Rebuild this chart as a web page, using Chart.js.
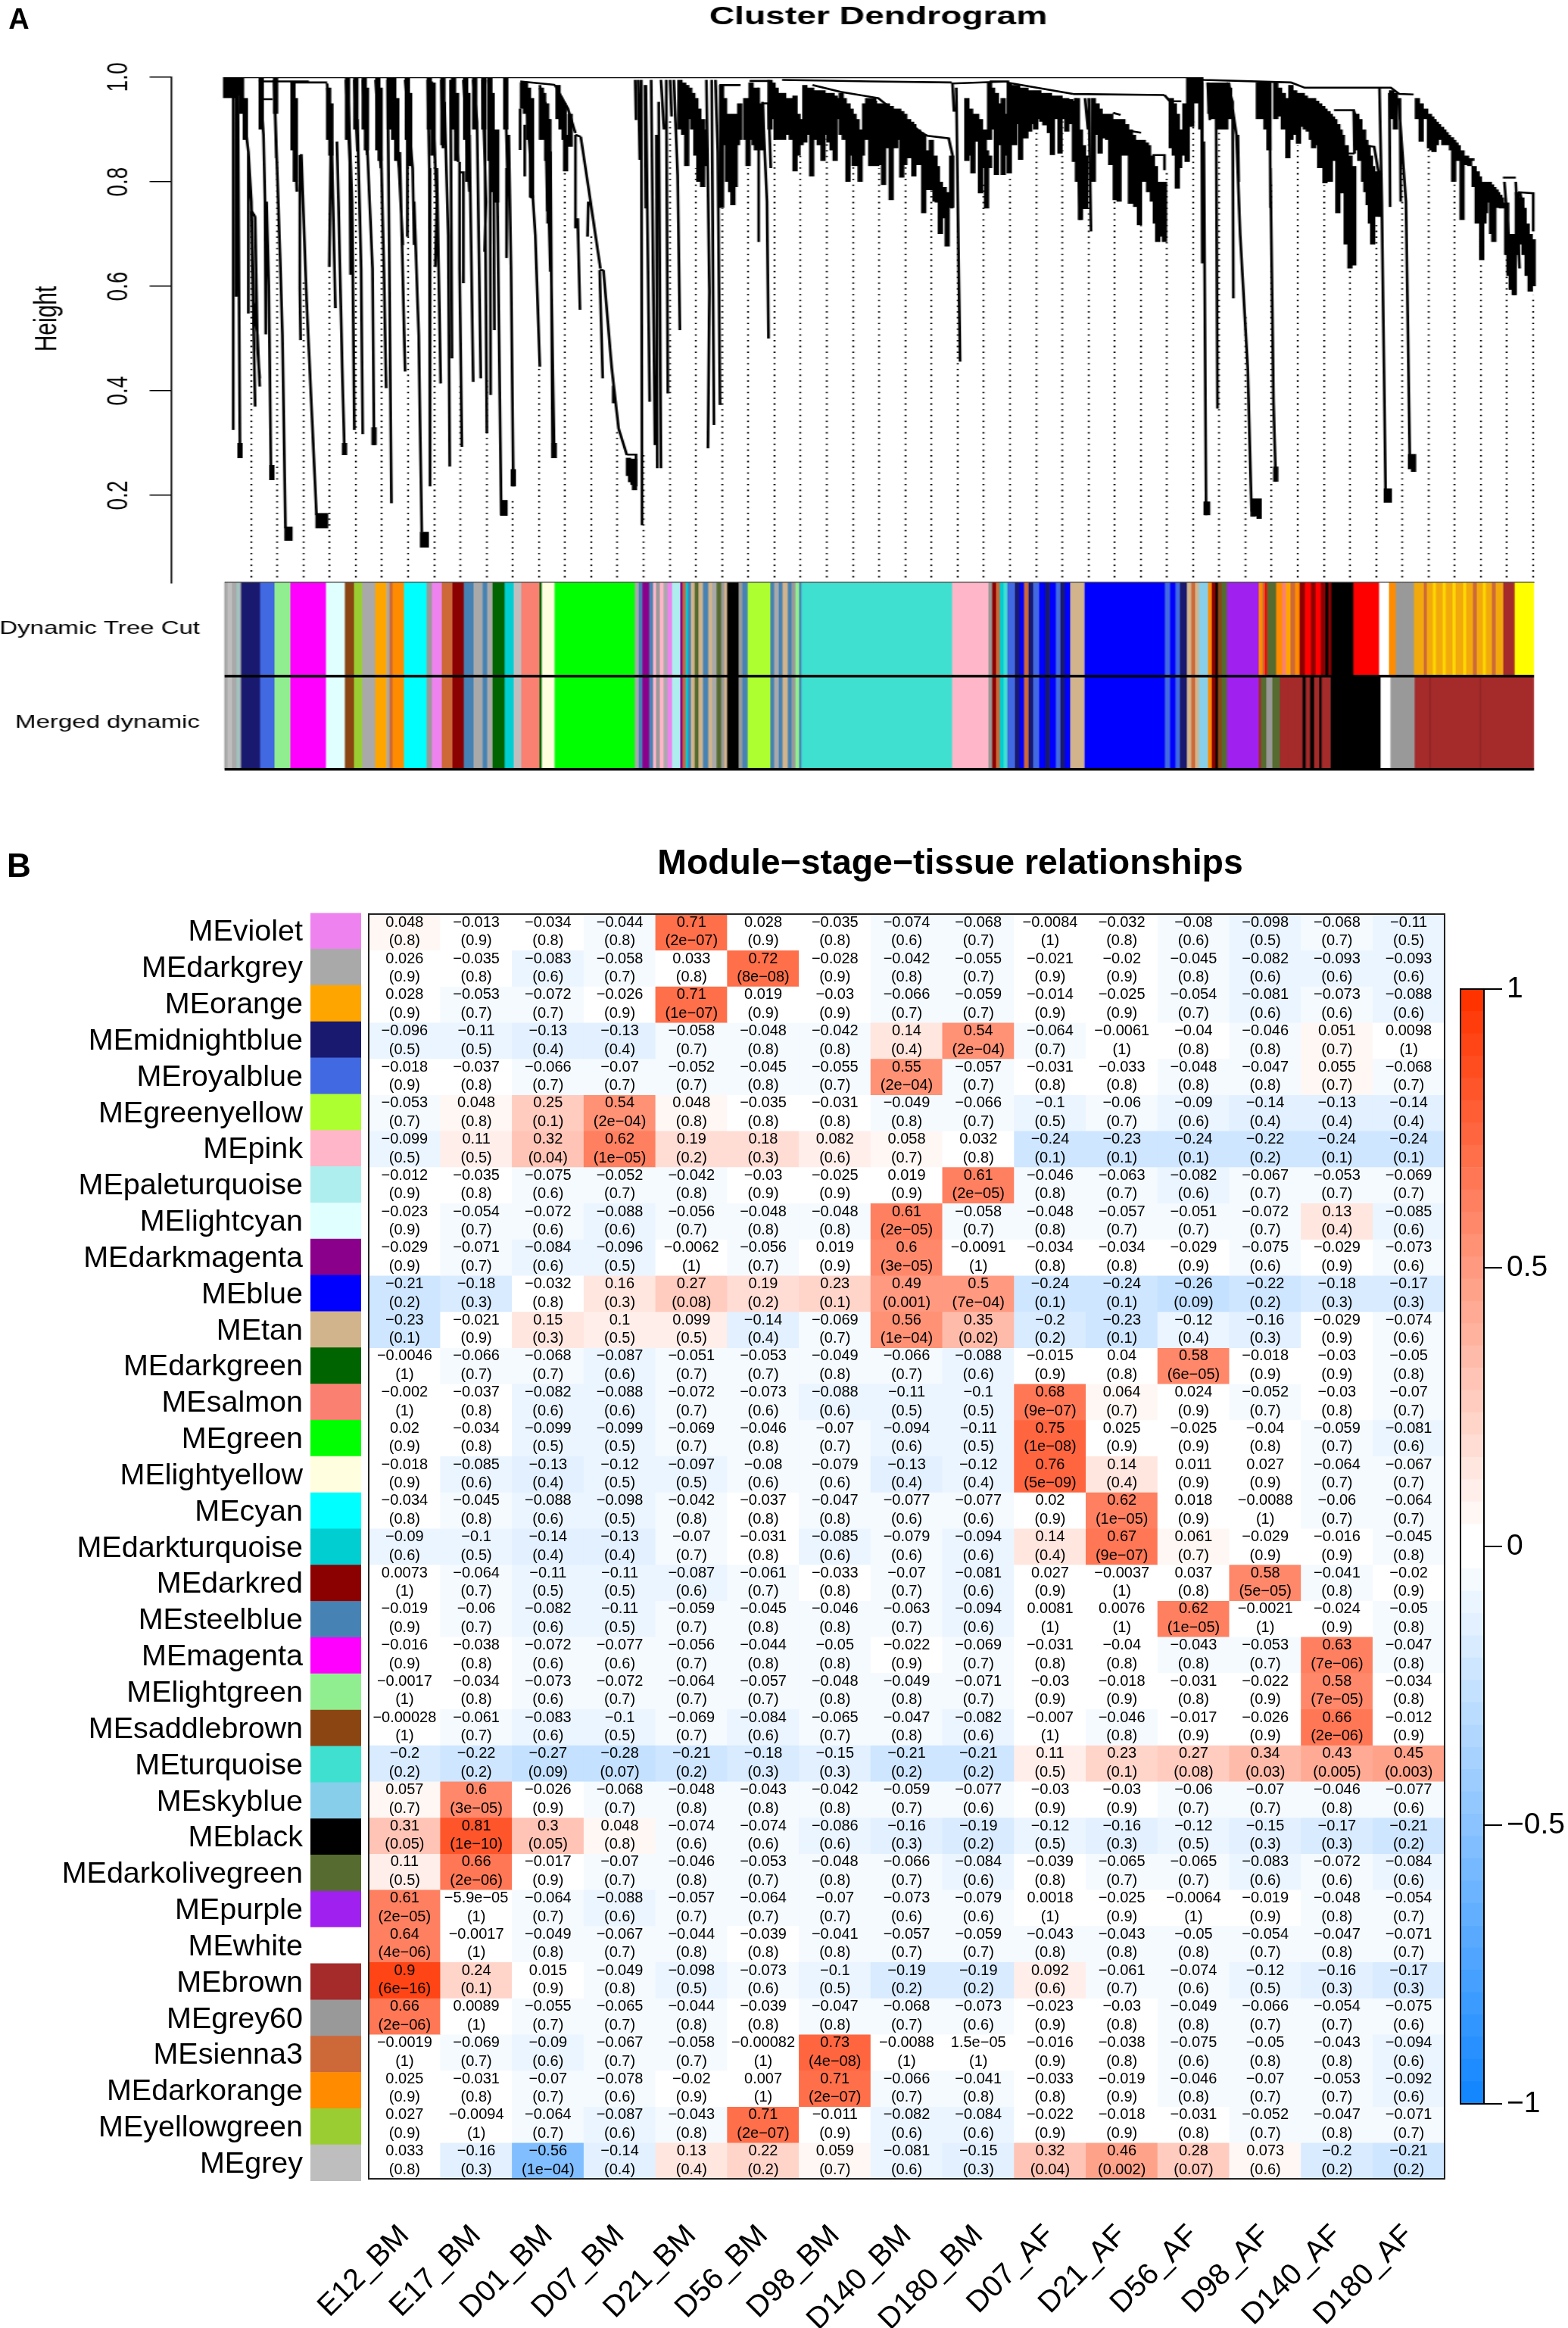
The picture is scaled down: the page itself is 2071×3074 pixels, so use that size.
<!DOCTYPE html>
<html>
<head>
<meta charset="utf-8">
<title>Cluster dendrogram and module-stage-tissue relationships</title>
<script src="https://cdn.jsdelivr.net/npm/chart.js@4"></script>
<style>
  html, body { margin: 0; background: #fff; }
  #page { position: relative; width: 2071px; height: 3074px; overflow: hidden; }
  canvas { position: absolute; left: 0; top: 0; }
  .wide { transform-origin: 0 0; transform: scaleX(1.39932); }
</style>
</head>
<body>
<div id="page">
  <canvas id="tree" class="wide" width="1480" height="790"></canvas>
  <canvas id="strips" class="wide" width="1480" height="1060"></canvas>
  <canvas id="swatches" width="2071" height="3074"></canvas>
  <canvas id="heatmap" width="2071" height="3074"></canvas>
  <canvas id="colorbar" width="2071" height="3074"></canvas>
</div>
<script>
// ---- panel B values ----
const stages = ['E12_BM', 'E17_BM', 'D01_BM', 'D07_BM', 'D21_BM', 'D56_BM', 'D98_BM', 'D140_BM', 'D180_BM', 'D07_AF', 'D21_AF', 'D56_AF', 'D98_AF', 'D140_AF', 'D180_AF']

const modules = ['MEviolet', 'MEdarkgrey', 'MEorange', 'MEmidnightblue', 'MEroyalblue', 'MEgreenyellow', 'MEpink', 'MEpaleturquoise', 'MElightcyan', 'MEdarkmagenta', 'MEblue', 'MEtan', 'MEdarkgreen', 'MEsalmon', 'MEgreen', 'MElightyellow', 'MEcyan', 'MEdarkturquoise', 'MEdarkred', 'MEsteelblue', 'MEmagenta', 'MElightgreen', 'MEsaddlebrown', 'MEturquoise', 'MEskyblue', 'MEblack', 'MEdarkolivegreen', 'MEpurple', 'MEwhite', 'MEbrown', 'MEgrey60', 'MEsienna3', 'MEdarkorange', 'MEyellowgreen', 'MEgrey']

const moduleColors = ['#EE82EE', '#A9A9A9', '#FFA500', '#191970', '#4169E1', '#ADFF2F', '#FFB6C8', '#AFEEEE', '#E0FFFF', '#8B008B', '#0000FF', '#D2B48C', '#006400', '#FA8072', '#00FF00', '#FFFFE0', '#00FFFF', '#00CED1', '#8B0000', '#4682B4', '#FF00FF', '#90EE90', '#8B4513', '#40E0D0', '#87CEEB', '#000000', '#556B2F', '#A020F0', '#FFFFFF', '#A52A2A', '#999999', '#CD6839', '#FF8C00', '#9ACD32', '#BEBEBE']

const corr = [
  [0.048, -0.013, -0.034, -0.044, 0.71, 0.028, -0.035, -0.074, -0.068, -0.0084, -0.032, -0.08, -0.098, -0.068, -0.11],
  [0.026, -0.035, -0.083, -0.058, 0.033, 0.72, -0.028, -0.042, -0.055, -0.021, -0.02, -0.045, -0.082, -0.093, -0.093],
  [0.028, -0.053, -0.072, -0.026, 0.71, 0.019, -0.03, -0.066, -0.059, -0.014, -0.025, -0.054, -0.081, -0.073, -0.088],
  [-0.096, -0.11, -0.13, -0.13, -0.058, -0.048, -0.042, 0.14, 0.54, -0.064, -0.0061, -0.04, -0.046, 0.051, 0.0098],
  [-0.018, -0.037, -0.066, -0.07, -0.052, -0.045, -0.055, 0.55, -0.057, -0.031, -0.033, -0.048, -0.047, 0.055, -0.068],
  [-0.053, 0.048, 0.25, 0.54, 0.048, -0.035, -0.031, -0.049, -0.066, -0.1, -0.06, -0.09, -0.14, -0.13, -0.14],
  [-0.099, 0.11, 0.32, 0.62, 0.19, 0.18, 0.082, 0.058, 0.032, -0.24, -0.23, -0.24, -0.22, -0.24, -0.24],
  [-0.012, -0.035, -0.075, -0.052, -0.042, -0.03, -0.025, 0.019, 0.61, -0.046, -0.063, -0.082, -0.067, -0.053, -0.069],
  [-0.023, -0.054, -0.072, -0.088, -0.056, -0.048, -0.048, 0.61, -0.058, -0.048, -0.057, -0.051, -0.072, 0.13, -0.085],
  [-0.029, -0.071, -0.084, -0.096, -0.0062, -0.056, 0.019, 0.6, -0.0091, -0.034, -0.034, -0.029, -0.075, -0.029, -0.073],
  [-0.21, -0.18, -0.032, 0.16, 0.27, 0.19, 0.23, 0.49, 0.5, -0.24, -0.24, -0.26, -0.22, -0.18, -0.17],
  [-0.23, -0.021, 0.15, 0.1, 0.099, -0.14, -0.069, 0.56, 0.35, -0.2, -0.23, -0.12, -0.16, -0.029, -0.074],
  [-0.0046, -0.066, -0.068, -0.087, -0.051, -0.053, -0.049, -0.066, -0.088, -0.015, 0.04, 0.58, -0.018, -0.03, -0.05],
  [-0.002, -0.037, -0.082, -0.088, -0.072, -0.073, -0.088, -0.11, -0.1, 0.68, 0.064, 0.024, -0.052, -0.03, -0.07],
  [0.02, -0.034, -0.099, -0.099, -0.069, -0.046, -0.07, -0.094, -0.11, 0.75, 0.025, -0.025, -0.04, -0.059, -0.081],
  [-0.018, -0.085, -0.13, -0.12, -0.097, -0.08, -0.079, -0.13, -0.12, 0.76, 0.14, 0.011, 0.027, -0.064, -0.067],
  [-0.034, -0.045, -0.088, -0.098, -0.042, -0.037, -0.047, -0.077, -0.077, 0.02, 0.62, 0.018, -0.0088, -0.06, -0.064],
  [-0.09, -0.1, -0.14, -0.13, -0.07, -0.031, -0.085, -0.079, -0.094, 0.14, 0.67, 0.061, -0.029, -0.016, -0.045],
  [0.0073, -0.064, -0.11, -0.11, -0.087, -0.061, -0.033, -0.07, -0.081, 0.027, -0.0037, 0.037, 0.58, -0.041, -0.02],
  [-0.019, -0.06, -0.082, -0.11, -0.059, -0.045, -0.046, -0.063, -0.094, 0.0081, 0.0076, 0.62, -0.0021, -0.024, -0.05],
  [-0.016, -0.038, -0.072, -0.077, -0.056, -0.044, -0.05, -0.022, -0.069, -0.031, -0.04, -0.043, -0.053, 0.63, -0.047],
  [-0.0017, -0.034, -0.073, -0.072, -0.064, -0.057, -0.048, -0.049, -0.071, -0.03, -0.018, -0.031, -0.022, 0.58, -0.034],
  [-0.00028, -0.061, -0.083, -0.1, -0.069, -0.084, -0.065, -0.047, -0.082, -0.007, -0.046, -0.017, -0.026, 0.66, -0.012],
  [-0.2, -0.22, -0.27, -0.28, -0.21, -0.18, -0.15, -0.21, -0.21, 0.11, 0.23, 0.27, 0.34, 0.43, 0.45],
  [0.057, 0.6, -0.026, -0.068, -0.048, -0.043, -0.042, -0.059, -0.077, -0.03, -0.03, -0.06, -0.07, -0.046, -0.077],
  [0.31, 0.81, 0.3, 0.048, -0.074, -0.074, -0.086, -0.16, -0.19, -0.12, -0.16, -0.12, -0.15, -0.17, -0.21],
  [0.11, 0.66, -0.017, -0.07, -0.046, -0.053, -0.048, -0.066, -0.084, -0.039, -0.065, -0.065, -0.083, -0.072, -0.084],
  [0.61, -5.9e-05, -0.064, -0.088, -0.057, -0.064, -0.07, -0.073, -0.079, 0.0018, -0.025, -0.0064, -0.019, -0.048, -0.054],
  [0.64, -0.0017, -0.049, -0.067, -0.044, -0.039, -0.041, -0.057, -0.059, -0.043, -0.043, -0.05, -0.054, -0.047, -0.071],
  [0.9, 0.24, 0.015, -0.049, -0.098, -0.073, -0.1, -0.19, -0.19, 0.092, -0.061, -0.074, -0.12, -0.16, -0.17],
  [0.66, 0.0089, -0.055, -0.065, -0.044, -0.039, -0.047, -0.068, -0.073, -0.023, -0.03, -0.049, -0.066, -0.054, -0.075],
  [-0.0019, -0.069, -0.09, -0.067, -0.058, -0.00082, 0.73, -0.0088, 1.5e-05, -0.016, -0.038, -0.075, -0.05, -0.043, -0.094],
  [0.025, -0.031, -0.07, -0.078, -0.02, 0.007, 0.71, -0.066, -0.041, -0.033, -0.019, -0.046, -0.07, -0.053, -0.092],
  [0.027, -0.0094, -0.064, -0.087, -0.043, 0.71, -0.011, -0.082, -0.084, -0.022, -0.018, -0.031, -0.052, -0.047, -0.071],
  [0.033, -0.16, -0.56, -0.14, 0.13, 0.22, 0.059, -0.081, -0.15, 0.32, 0.46, 0.28, 0.073, -0.2, -0.21]
]

const pvals = [
  ['0.8', '0.9', '0.8', '0.8', '2e-07', '0.9', '0.8', '0.6', '0.7', '1', '0.8', '0.6', '0.5', '0.7', '0.5'],
  ['0.9', '0.8', '0.6', '0.7', '0.8', '8e-08', '0.9', '0.8', '0.7', '0.9', '0.9', '0.8', '0.6', '0.6', '0.6'],
  ['0.9', '0.7', '0.7', '0.9', '1e-07', '0.9', '0.9', '0.7', '0.7', '0.9', '0.9', '0.7', '0.6', '0.6', '0.6'],
  ['0.5', '0.5', '0.4', '0.4', '0.7', '0.8', '0.8', '0.4', '2e-04', '0.7', '1', '0.8', '0.8', '0.7', '1'],
  ['0.9', '0.8', '0.7', '0.7', '0.7', '0.8', '0.7', '2e-04', '0.7', '0.8', '0.8', '0.8', '0.8', '0.7', '0.7'],
  ['0.7', '0.8', '0.1', '2e-04', '0.8', '0.8', '0.8', '0.8', '0.7', '0.5', '0.7', '0.6', '0.4', '0.4', '0.4'],
  ['0.5', '0.5', '0.04', '1e-05', '0.2', '0.3', '0.6', '0.7', '0.8', '0.1', '0.1', '0.1', '0.2', '0.1', '0.1'],
  ['0.9', '0.8', '0.6', '0.7', '0.8', '0.9', '0.9', '0.9', '2e-05', '0.8', '0.7', '0.6', '0.7', '0.7', '0.7'],
  ['0.9', '0.7', '0.6', '0.6', '0.7', '0.8', '0.8', '2e-05', '0.7', '0.8', '0.7', '0.7', '0.7', '0.4', '0.6'],
  ['0.9', '0.7', '0.6', '0.5', '1', '0.7', '0.9', '3e-05', '1', '0.8', '0.8', '0.9', '0.6', '0.9', '0.6'],
  ['0.2', '0.3', '0.8', '0.3', '0.08', '0.2', '0.1', '0.001', '7e-04', '0.1', '0.1', '0.09', '0.2', '0.3', '0.3'],
  ['0.1', '0.9', '0.3', '0.5', '0.5', '0.4', '0.7', '1e-04', '0.02', '0.2', '0.1', '0.4', '0.3', '0.9', '0.6'],
  ['1', '0.7', '0.7', '0.6', '0.7', '0.7', '0.8', '0.7', '0.6', '0.9', '0.8', '6e-05', '0.9', '0.9', '0.8'],
  ['1', '0.8', '0.6', '0.6', '0.7', '0.6', '0.6', '0.5', '0.5', '9e-07', '0.7', '0.9', '0.7', '0.8', '0.7'],
  ['0.9', '0.8', '0.5', '0.5', '0.7', '0.8', '0.7', '0.6', '0.5', '1e-08', '0.9', '0.9', '0.8', '0.7', '0.6'],
  ['0.9', '0.6', '0.4', '0.5', '0.5', '0.6', '0.6', '0.4', '0.4', '5e-09', '0.4', '0.9', '0.9', '0.7', '0.7'],
  ['0.8', '0.8', '0.6', '0.5', '0.8', '0.8', '0.8', '0.6', '0.6', '0.9', '1e-05', '0.9', '1', '0.7', '0.7'],
  ['0.6', '0.5', '0.4', '0.4', '0.7', '0.8', '0.6', '0.6', '0.6', '0.4', '9e-07', '0.7', '0.9', '0.9', '0.8'],
  ['1', '0.7', '0.5', '0.5', '0.6', '0.7', '0.8', '0.7', '0.6', '0.9', '1', '0.8', '5e-05', '0.8', '0.9'],
  ['0.9', '0.7', '0.6', '0.5', '0.7', '0.8', '0.8', '0.7', '0.6', '1', '1', '1e-05', '1', '0.9', '0.8'],
  ['0.9', '0.8', '0.6', '0.6', '0.7', '0.8', '0.8', '0.9', '0.7', '0.8', '0.8', '0.8', '0.7', '7e-06', '0.8'],
  ['1', '0.8', '0.6', '0.7', '0.7', '0.7', '0.8', '0.8', '0.7', '0.9', '0.9', '0.8', '0.9', '7e-05', '0.8'],
  ['1', '0.7', '0.6', '0.5', '0.7', '0.6', '0.7', '0.8', '0.6', '1', '0.8', '0.9', '0.9', '2e-06', '0.9'],
  ['0.2', '0.2', '0.09', '0.07', '0.2', '0.3', '0.3', '0.2', '0.2', '0.5', '0.1', '0.08', '0.03', '0.005', '0.003'],
  ['0.7', '3e-05', '0.9', '0.7', '0.8', '0.8', '0.8', '0.7', '0.6', '0.9', '0.9', '0.7', '0.7', '0.8', '0.6'],
  ['0.05', '1e-10', '0.05', '0.8', '0.6', '0.6', '0.6', '0.3', '0.2', '0.5', '0.3', '0.5', '0.3', '0.3', '0.2'],
  ['0.5', '2e-06', '0.9', '0.7', '0.8', '0.7', '0.8', '0.7', '0.6', '0.8', '0.7', '0.7', '0.6', '0.6', '0.6'],
  ['2e-05', '1', '0.7', '0.6', '0.7', '0.7', '0.7', '0.6', '0.6', '1', '0.9', '1', '0.9', '0.8', '0.7'],
  ['4e-06', '1', '0.8', '0.7', '0.8', '0.8', '0.8', '0.7', '0.7', '0.8', '0.8', '0.8', '0.7', '0.8', '0.7'],
  ['6e-16', '0.1', '0.9', '0.8', '0.5', '0.6', '0.5', '0.2', '0.2', '0.6', '0.7', '0.6', '0.5', '0.3', '0.3'],
  ['2e-06', '1', '0.7', '0.7', '0.8', '0.8', '0.8', '0.7', '0.6', '0.9', '0.8', '0.8', '0.7', '0.7', '0.6'],
  ['1', '0.7', '0.6', '0.7', '0.7', '1', '4e-08', '1', '1', '0.9', '0.8', '0.6', '0.8', '0.8', '0.6'],
  ['0.9', '0.8', '0.7', '0.6', '0.9', '1', '2e-07', '0.7', '0.8', '0.8', '0.9', '0.8', '0.7', '0.7', '0.6'],
  ['0.9', '1', '0.7', '0.6', '0.8', '2e-07', '0.9', '0.6', '0.6', '0.9', '0.9', '0.8', '0.7', '0.8', '0.7'],
  ['0.8', '0.3', '1e-04', '0.4', '0.4', '0.2', '0.7', '0.6', '0.3', '0.04', '0.002', '0.07', '0.6', '0.2', '0.2']
]

const colorbarEdges = [-1, -0.96, -0.92, -0.88, -0.84, -0.8, -0.76, -0.72, -0.68, -0.64, -0.6, -0.56, -0.52, -0.48, -0.44, -0.4, -0.36, -0.32, -0.28, -0.24, -0.2, -0.16, -0.12, -0.08, -0.04, 0, 0.04, 0.08, 0.12, 0.16, 0.2, 0.24, 0.28, 0.32, 0.36, 0.4, 0.44, 0.48, 0.52, 0.56, 0.6, 0.64, 0.68, 0.72, 0.76, 0.8, 0.84, 0.88, 0.92, 0.96, 1]

// ---- panel A values: x is position along the gene order, y is tree height ----
const heightTicks = [0.2, 0.4, 0.6, 0.8, 1]

// branches, each a polyline as x, h, x, h ...
const treeLines = [
  [296, 1, 1567, 1, 1590, 0.995, 1705, 0.99, 1723, 0.98, 1837, 0.98, 1848, 0.968, 1867, 0.967],
  [343, 0.992, 408, 0.992], [387, 0.99, 432, 0.99], [687, 0.992, 730, 0.986, 733, 0.985],
  [1033, 0.995, 1150, 0.992, 1257, 0.99], [1257, 0.988, 1333, 0.992], [1417, 0.968, 1538, 0.966],
  [950, 0.985, 978, 0.985], [990, 0.993, 1017, 0.993],
  [308, 1, 308, 0.325], [312, 1, 312, 0.58], [314, 1, 317, 0.271],
  [317, 1, 323, 0.92, 328, 0.857, 332, 0.762, 335, 0.57, 340, 0.507, 343, 0.408],
  [328, 0.857, 328, 0.548], [332, 0.743, 337, 0.37], [337, 0.733, 340, 0.481, 343, 0.424], [332, 0.745, 337, 0.733],
  [343, 0.995, 348, 0.89, 350, 0.762, 351, 0.602, 351, 0.508], [352, 0.762, 355, 0.602, 358, 0.229],
  [347, 0.958, 360, 0.958],
  [362, 0.995, 365, 0.845], [363, 0.953, 370, 0.653, 373, 0.507, 377, 0.137],
  [385, 0.992, 390, 0.858, 392, 0.781], [396, 0.851, 396, 0.596, 397, 0.497], [396, 0.851, 398, 0.851, 405, 0.571, 418, 0.162],
  [432, 0.988, 437, 0.889, 435, 0.637], [438, 0.877, 443, 0.558], [445, 0.877, 447, 0.762, 452, 0.443, 455, 0.277],
  [457, 0.995, 462, 0.838, 463, 0.622], [460, 0.953, 465, 0.762, 468, 0.325],
  [468, 0.995, 472, 0.858], [472, 0.92, 477, 0.634, 479, 0.317],
  [479, 0.995, 485, 0.851], [483, 0.934, 492, 0.634, 494, 0.296],
  [496, 0.995, 503, 0.826], [502, 0.934, 507, 0.634, 510, 0.405],
  [512, 0.995, 517, 0.185],
  [518, 0.995, 527, 0.826, 532, 0.679], [528, 0.857, 535, 0.437],
  [535, 0.995, 545, 0.826, 547, 0.679], [547, 0.762, 553, 0.507, 557, 0.13], [538, 0.953, 538, 0.695],
  [565, 0.995, 567, 0.826, 568, 0.217],
  [570, 0.992, 577, 0.762, 575, 0.637], [577, 0.826, 582, 0.414],
  [583, 0.995, 585, 0.864], [587, 0.953, 592, 0.698, 594, 0.255], [595, 0.995, 597, 0.462],
  [597, 0.992, 605, 0.838], [607, 0.838, 607, 0.634, 610, 0.293], [606, 0.818, 612, 0.818, 612, 0.606],
  [612, 0.995, 620, 0.781], [620, 0.89, 625, 0.417], [625, 0.995, 630, 0.915, 635, 0.424],
  [637, 0.995, 642, 0.762, 640, 0.666], [640, 0.953, 643, 0.319], [647, 0.953, 648, 0.392],
  [645, 0.995, 657, 0.762, 662, 0.162], [652, 0.826, 653, 0.516],
  [667, 0.995, 670, 0.826, 669, 0.654], [672, 0.89, 675, 0.628, 678, 0.217],
  [695, 0.966, 707, 0.698, 713, 0.446], [713, 0.985, 722, 0.89, 727, 0.628], [727, 0.858, 730, 0.271],
  [687, 0.94, 687, 0.861], [693, 0.909, 693, 0.81], [702, 0.89, 702, 0.768],
  [720, 0.953, 723, 0.743], [725, 0.92, 728, 0.628, 732, 0.271],
  [733, 0.985, 750, 0.94, 760, 0.893], [760, 0.89, 767, 0.886], [760, 0.89, 760, 0.711], [763, 0.73, 766, 0.555],
  [767, 0.886, 778, 0.781, 793, 0.634], [777, 0.762, 776, 0.695], [792, 0.631, 797, 0.631], [792, 0.631, 796, 0.424],
  [797, 0.631, 808, 0.443, 817, 0.328, 828, 0.277], [810, 0.41, 810, 0.376], [828, 0.278, 840, 0.278, 840, 0.217],
  [839, 0.995, 840, 0.918], [843, 0.995, 845, 0.842], [847, 0.995, 848, 0.143], [852, 0.985, 853, 0.749], [853, 0.985, 858, 0.379],
  [860, 0.995, 865, 0.296], [867, 0.89, 868, 0.252], [870, 0.953, 873, 0.252], [873, 0.995, 877, 0.9],
  [880, 0.995, 882, 0.395], [885, 0.995, 887, 0.925], [890, 0.995, 895, 0.813, 898, 0.516],
  [933, 0.995, 937, 0.59, 935, 0.29], [940, 0.995, 943, 0.335], [945, 0.995, 948, 0.857, 951, 0.373],
  [1007, 0.953, 1013, 0.762, 1015, 0.5], [1007, 0.95, 1015, 0.95, 1018, 0.826], [1002, 0.98, 1002, 0.685],
  [1073, 0.985, 1110, 0.972, 1160, 0.96, 1218, 0.893, 1225, 0.888, 1253, 0.883, 1258, 0.851, 1257, 0.749],
  [1263, 0.98, 1265, 0.762, 1268, 0.456], [1258, 0.988, 1260, 0.934],
  [1307, 0.992, 1333, 0.992], [1330, 0.99, 1417, 0.968],
  [1420, 0.96, 1427, 0.727], [1433, 0.96, 1437, 0.9], [1438, 0.96, 1441, 0.705],
  [1470, 0.932, 1480, 0.928], [1493, 0.897, 1507, 0.894], [1522, 0.851, 1538, 0.851, 1538, 0.822],
  [1538, 0.966, 1545, 0.954, 1560, 0.954], [1587, 0.99, 1588, 0.644], [1590, 0.877, 1593, 0.162],
  [1595, 0.99, 1598, 0.918], [1606, 0.99, 1608, 0.366],
  [1620, 0.99, 1628, 0.953, 1629, 0.577], [1623, 0.99, 1633, 0.89, 1638, 0.698, 1648, 0.443, 1653, 0.169], [1635, 0.89, 1636, 0.8],
  [1677, 0.99, 1678, 0.75], [1678, 0.826, 1682, 0.379, 1685, 0.226],
  [1762, 0.937, 1788, 0.937, 1789, 0.854], [1775, 0.854, 1789, 0.854], [1780, 0.81, 1787, 0.81, 1789, 0.775], [1788, 0.937, 1800, 0.87, 1815, 0.867, 1822, 0.807, 1822, 0.733],
  [1822, 0.979, 1825, 0.762, 1830, 0.213], [1835, 0.97, 1836, 0.752], [1849, 0.96, 1850, 0.762], [1847, 0.96, 1857, 0.762, 1862, 0.277],
  [1985, 0.808, 2002, 0.808], [1987, 0.8, 1992, 0.705, 2000, 0.583], [2002, 0.8, 2007, 0.634],
  [2005, 0.78, 2025, 0.778, 2025, 0.705], [2008, 0.778, 2017, 0.698, 2023, 0.59]
]

// dense groups of leaves, each column as x, top height, bottom height
const fanColumns = [
  [298, 1, 0.96], [303, 1, 0.96], [308, 1, 0.96], [313, 1, 0.965], [319, 1, 0.93], [324, 0.96, 0.88], [345, 1, 0.9], [364, 1, 0.93],
  [387, 0.99, 0.86], [390, 0.96, 0.8], [434, 0.98, 0.88], [437, 0.95, 0.85], [459, 1, 0.88], [470, 1, 0.9], [481, 1, 0.9], [484, 0.98, 0.86],
  [499, 1, 0.86], [502, 0.98, 0.84], [514, 1, 0.9], [520, 1, 0.88], [524, 0.96, 0.84], [538, 1, 0.88], [541, 0.97, 0.83], [567, 1, 0.9],
  [572, 0.99, 0.85], [585, 1, 0.87], [599, 1, 0.9], [603, 0.97, 0.84], [615, 1, 0.88], [618, 0.97, 0.8], [627, 1, 0.9], [639, 1, 0.9],
  [647, 1, 0.84], [650, 0.97, 0.78], [656, 0.9, 0.76], [668, 1, 0.9], [690, 0.99, 0.94], [694, 0.99, 0.93], [698, 0.98, 0.88], [702, 0.96, 0.77],
  [715, 0.98, 0.88], [718, 0.97, 0.88], [722, 0.95, 0.84], [725, 0.92, 0.72], [737, 0.985, 0.92], [741, 0.96, 0.9], [745, 0.95, 0.88], [747, 0.89, 0.82], [753, 0.93, 0.867],
  [379, 0.14, 0.113], [383, 0.14, 0.113], [420, 0.166, 0.137], [425, 0.166, 0.137], [430, 0.166, 0.137], [558, 0.13, 0.1], [563, 0.13, 0.1],
  [359, 0.258, 0.229], [317, 0.3, 0.271], [664, 0.191, 0.161], [667, 0.191, 0.161], [455, 0.3, 0.277], [494, 0.33, 0.296], [678, 0.25, 0.217], [732, 0.3, 0.271],
  [830, 0.272, 0.237], [833, 0.27, 0.225], [836, 0.27, 0.22], [838, 0.27, 0.21],
  [898, 0.995, 0.9], [903, 0.99, 0.89], [907, 0.985, 0.83], [911, 0.98, 0.92], [915, 0.97, 0.9], [919, 0.96, 0.85], [923, 0.94, 0.8], [928, 0.92, 0.79], [930, 0.9, 0.83],
  [953, 0.985, 0.75], [957, 0.96, 0.87], [961, 0.93, 0.8], [965, 0.93, 0.78], [968, 0.93, 0.755], [971, 0.93, 0.79], [974, 0.92, 0.87], [977, 0.95, 0.88],
  [985, 0.96, 0.88], [988, 0.96, 0.83], [992, 0.99, 0.88], [996, 0.98, 0.87], [999, 0.98, 0.86], [1006, 0.95, 0.86],
  [1017, 0.995, 0.9], [1021, 0.99, 0.92], [1025, 0.98, 0.88], [1030, 0.97, 0.88], [1035, 0.97, 0.88], [1040, 0.96, 0.89], [1045, 0.96, 0.88], [1050, 0.965, 0.82], [1054, 0.93, 0.85], [1058, 0.92, 0.87],
  [1063, 0.985, 0.875], [1067, 0.98, 0.89], [1072, 0.98, 0.81], [1077, 0.975, 0.88], [1082, 0.975, 0.87], [1087, 0.975, 0.84], [1091, 0.97, 0.89], [1095, 0.97, 0.875], [1099, 0.97, 0.86], [1103, 0.965, 0.84], [1107, 0.96, 0.92],
  [1111, 0.97, 0.89], [1115, 0.96, 0.88], [1120, 0.95, 0.8], [1124, 0.94, 0.85], [1128, 0.93, 0.83], [1132, 0.92, 0.83], [1136, 0.9, 0.8], [1139, 0.88, 0.85], [1142, 0.95, 0.88], [1146, 0.96, 0.88], [1150, 0.96, 0.83], [1154, 0.96, 0.87], [1158, 0.95, 0.83],
  [1155, 0.955, 0.83], [1160, 0.95, 0.832], [1164, 0.95, 0.9], [1167, 0.95, 0.794], [1172, 0.95, 0.864], [1177, 0.945, 0.765], [1183, 0.94, 0.864], [1187, 0.94, 0.88], [1191, 0.935, 0.808], [1195, 0.93, 0.832], [1200, 0.92, 0.845], [1204, 0.915, 0.86], [1207, 0.91, 0.81], [1213, 0.9, 0.832], [1217, 0.895, 0.84], [1220, 0.89, 0.74], [1225, 0.86, 0.784],
  [1230, 0.88, 0.784], [1235, 0.85, 0.762], [1238, 0.83, 0.76], [1242, 0.8, 0.7], [1247, 0.79, 0.73], [1251, 0.78, 0.676], [1257, 0.85, 0.75],
  [1277, 0.96, 0.84], [1282, 0.94, 0.85], [1285, 0.93, 0.816], [1290, 0.93, 0.877], [1295, 0.92, 0.778], [1300, 0.9, 0.826], [1303, 0.86, 0.749], [1307, 0.85, 0.826],
  [1307, 0.99, 0.88], [1311, 0.98, 0.9], [1316, 0.97, 0.813], [1320, 0.95, 0.87], [1325, 0.96, 0.813], [1329, 0.93, 0.85], [1333, 0.92, 0.816],
  [1333, 0.99, 0.9], [1337, 0.985, 0.91], [1340, 0.985, 0.87], [1344, 0.985, 0.91], [1348, 0.98, 0.842], [1352, 0.98, 0.92], [1355, 0.98, 0.883], [1360, 0.975, 0.896], [1364, 0.975, 0.91], [1368, 0.975, 0.9], [1372, 0.975, 0.92], [1376, 0.97, 0.915], [1380, 0.97, 0.908], [1383, 0.97, 0.92], [1386, 0.97, 0.893], [1390, 0.965, 0.851], [1395, 0.965, 0.92], [1400, 0.965, 0.854], [1404, 0.96, 0.92], [1409, 0.96, 0.896], [1414, 0.958, 0.91], [1419, 0.955, 0.838],
  [1423, 0.96, 0.8], [1427, 0.9, 0.727], [1431, 0.87, 0.76], [1434, 0.85, 0.748], [1444, 0.96, 0.8],
  [1449, 0.95, 0.89], [1453, 0.94, 0.854], [1458, 0.93, 0.883], [1463, 0.93, 0.88], [1467, 0.93, 0.832], [1473, 0.92, 0.765], [1478, 0.92, 0.762],
  [1483, 0.92, 0.85], [1488, 0.91, 0.85], [1493, 0.9, 0.758], [1497, 0.89, 0.78], [1500, 0.88, 0.752], [1505, 0.88, 0.717],
  [1510, 0.88, 0.8], [1514, 0.875, 0.8], [1517, 0.87, 0.78], [1522, 0.85, 0.762], [1526, 0.83, 0.72], [1529, 0.8, 0.685], [1533, 0.8, 0.695], [1536, 0.8, 0.7], [1538, 0.8, 0.685],
  [1547, 0.96, 0.864], [1551, 0.95, 0.85], [1555, 0.93, 0.787], [1558, 0.9, 0.826], [1565, 0.95, 0.85], [1568, 0.95, 0.838],
  [1570, 1, 0.95], [1574, 1, 0.905], [1578, 1, 0.95], [1582, 1, 0.95], [1586, 1, 0.9],
  [1593, 0.188, 0.162], [1595, 0.188, 0.162], [1655, 0.194, 0.159], [1659, 0.194, 0.16], [1663, 0.194, 0.155], [1685, 0.255, 0.226], [1831, 0.213, 0.186], [1835, 0.213, 0.186], [1863, 0.279, 0.25], [1867, 0.279, 0.245],
  [1598, 0.99, 0.93], [1602, 0.99, 0.92], [1610, 0.99, 0.9], [1615, 0.99, 0.9], [1619, 0.99, 0.9], [1624, 0.98, 0.92],
  [1662, 0.99, 0.92], [1667, 0.99, 0.92], [1672, 0.99, 0.9], [1676, 0.99, 0.86],
  [1685, 0.99, 0.92], [1690, 0.98, 0.925], [1695, 0.97, 0.9], [1701, 0.96, 0.845], [1705, 0.985, 0.88], [1710, 0.975, 0.89], [1715, 0.97, 0.873], [1720, 0.97, 0.905], [1724, 0.965, 0.9], [1728, 0.96, 0.896], [1732, 0.96, 0.88], [1735, 0.96, 0.864], [1739, 0.955, 0.87], [1743, 0.95, 0.826], [1747, 0.945, 0.83], [1750, 0.94, 0.797], [1754, 0.935, 0.82], [1757, 0.93, 0.8], [1760, 0.925, 0.84], [1763, 0.92, 0.85], [1767, 0.91, 0.74], [1770, 0.9, 0.8], [1773, 0.89, 0.778], [1778, 0.87, 0.68], [1783, 0.85, 0.634], [1788, 0.83, 0.64],
  [1792, 0.93, 0.86], [1796, 0.92, 0.84], [1801, 0.9, 0.8], [1804, 0.88, 0.78], [1807, 0.87, 0.755], [1810, 0.85, 0.72], [1813, 0.83, 0.68], [1817, 0.82, 0.74], [1820, 0.8, 0.733],
  [1838, 0.975, 0.92], [1843, 0.97, 0.9], [1872, 0.96, 0.92], [1877, 0.95, 0.877], [1883, 0.94, 0.92], [1888, 0.93, 0.864], [1891, 0.925, 0.86], [1894, 0.92, 0.857], [1897, 0.915, 0.87], [1900, 0.91, 0.89], [1904, 0.905, 0.88], [1907, 0.9, 0.87], [1910, 0.895, 0.87], [1913, 0.89, 0.883], [1917, 0.885, 0.86], [1920, 0.88, 0.8], [1923, 0.875, 0.85], [1926, 0.87, 0.84], [1931, 0.86, 0.727], [1937, 0.85, 0.832], [1941, 0.845, 0.83], [1944, 0.84, 0.845], [1947, 0.83, 0.79], [1951, 0.82, 0.72], [1954, 0.81, 0.74], [1957, 0.8, 0.65], [1960, 0.8, 0.72], [1962, 0.8, 0.74], [1965, 0.8, 0.76], [1967, 0.8, 0.775], [1970, 0.795, 0.7], [1973, 0.79, 0.685], [1976, 0.785, 0.75], [1978, 0.78, 0.775], [1981, 0.775, 0.76], [1983, 0.77, 0.749],
  [1990, 0.76, 0.66], [1993, 0.7, 0.62], [1996, 0.7, 0.593], [2000, 0.7, 0.583], [2004, 0.78, 0.66], [2010, 0.77, 0.68], [2013, 0.75, 0.66], [2017, 0.72, 0.62], [2021, 0.7, 0.59], [2025, 0.69, 0.6]
]

// dotted guide lines, bottom of the plot up to the tree
const guideX = [332, 366, 401, 435, 470, 504, 539, 574, 608, 643, 677, 712, 746, 781, 815, 850, 885, 919, 954, 988, 1023, 1057, 1092, 1127, 1161, 1196, 1230, 1265, 1299, 1334, 1369, 1403, 1438, 1472, 1507, 1541, 1576, 1610, 1645, 1679, 1714, 1749, 1783, 1818, 1852, 1887, 1921, 1956, 1990, 2025]
const guideTop = [0.743, 0.845, 0.609, 0.743, 0.858, 0.826, 0.883, 0.858, 0.411, 0.424, 0.194, 0.443, 0.82, 0.698, 0.322, 0.28, 0.92, 0.826, 0.749, 0.826, 0.915, 0.851, 0.89, 0.858, 0.826, 0.864, 0.787, 0.787, 0.8, 0.813, 0.902, 0.921, 0.896, 0.82, 0.717, 0.82, 0.921, 0.896, 0.545, 0.8, 0.87, 0.794, 0.634, 0.717, 0.826, 0.883, 0.8, 0.647, 0.698, 0.583]

const stripRows = ['Dynamic Tree Cut', 'Merged dynamic']

// colour strips: where each band ends along the gene order, and its colour
const sharedEnds = [300, 306, 312, 316, 318, 343, 362, 383, 430, 455, 467, 478, 495, 510, 514, 518, 533, 563, 570, 583, 597, 612, 625, 637, 643, 650, 666, 678, 688, 712, 715, 732, 838, 843, 848, 857, 862, 866, 871, 876, 881, 887, 898, 901, 905, 908, 912, 917, 922, 928, 935, 940, 946, 952, 956, 960, 975, 980, 987, 1017, 1022, 1028, 1033, 1040, 1045, 1050, 1055, 1058, 1257, 1305, 1310, 1315, 1320, 1325, 1330, 1340, 1346, 1352, 1358, 1364, 1372, 1380, 1386, 1394, 1400, 1406, 1413, 1432, 1538, 1545, 1552, 1558, 1567, 1573, 1578, 1583, 1595, 1600, 1605, 1608, 1613, 1620, 1662]
const sharedColors = ['#A9A9A9', '#BEBEBE', '#A9A9A9', '#9FC4C0', '#A9A9A9', '#191970', '#4169E1', '#90EE90', '#FF00FF', '#E0FFFF', '#8B4513', '#9ACD32', '#A9A9A9', '#FFA500', '#A9A9A9', '#CD6839', '#FF8C00', '#00FFFF', '#999999', '#EE82EE', '#CD6839', '#8B0000', '#4682B4', '#A9A9A9', '#4682B4', '#A9A9A9', '#006400', '#00CED1', '#BEBEBE', '#FA8072', '#006400', '#FFFFE0', '#00FF00', '#A9A9A9', '#4682B4', '#8B008B', '#4682B4', '#FFB6C8', '#999999', '#FFB6C8', '#A9A9A9', '#EE82EE', '#AFEEEE', '#8B008B', '#CD6839', '#00CED1', '#4682B4', '#D2B48C', '#556B2F', '#D2B48C', '#4682B4', '#D2B48C', '#A9A9A9', '#556B2F', '#999999', '#D2B48C', '#000000', '#999999', '#4682B4', '#ADFF2F', '#4682B4', '#A9A9A9', '#4682B4', '#D2B48C', '#4682B4', '#999999', '#90EE90', '#4682B4', '#40E0D0', '#FFB6C8', '#999999', '#8B0000', '#CD6839', '#00CED1', '#40E0D0', '#4169E1', '#191970', '#0000FF', '#CD6839', '#191970', '#4169E1', '#0000FF', '#191970', '#0000FF', '#4169E1', '#191970', '#0000FF', '#D2B48C', '#0000FF', '#4169E1', '#0000FF', '#4169E1', '#191970', '#D2B48C', '#CD6839', '#D2B48C', '#87CEEB', '#FF8C00', '#8B0000', '#000000', '#8B4513', '#556B2F', '#A020F0']

const cutTailEnds = [1667, 1670, 1673, 1685, 1693, 1698, 1704, 1710, 1716, 1723, 1731, 1737, 1744, 1750, 1754, 1758, 1787, 1821, 1834, 1843, 1867, 1880, 1884, 1892, 1896, 1905, 1909, 1918, 1922, 1932, 1936, 1945, 1950, 1958, 1962, 1970, 1975, 1985, 2000, 2026]
const cutTailColors = ['#FF8C00', '#CD6839', '#FF0000', '#556B2F', '#FF8C00', '#FA8072', '#FFA500', '#CD6839', '#FF8C00', '#8B0000', '#FF0000', '#8B0000', '#FF0000', '#8B0000', '#000000', '#8B0000', '#000000', '#FF0000', '#FFFFFF', '#FF8C00', '#999999', '#F2A90C', '#CD6839', '#F2A90C', '#FFD700', '#F2A90C', '#FFD700', '#F2A90C', '#FFD700', '#F2A90C', '#FFD700', '#F2A90C', '#CD6839', '#F2A90C', '#FFD700', '#F2A90C', '#CD6839', '#F2A90C', '#A52A2A', '#FFFF00']

const mergedTailEnds = [1665, 1672, 1680, 1690, 1700, 1720, 1724, 1730, 1735, 1742, 1745, 1750, 1757, 1823, 1836, 1868, 1888, 1889, 1954, 1955, 2026]
const mergedTailColors = ['#A52A2A', '#556B2F', '#999999', '#556B2F', '#A52A2A', '#A52A2A', '#000000', '#A52A2A', '#000000', '#A52A2A', '#000000', '#A52A2A', '#A52A2A', '#000000', '#FFFFFF', '#999999', '#A52A2A', '#7A2020', '#A52A2A', '#7A2020', '#A52A2A']

// ---- helpers ----
const FONT = '"Liberation Sans", Arial, sans-serif'
const STRETCH = 2071 / 1480 // panel A is drawn wider than it is tall, as in the figure
const px = x => x / STRETCH

function minusSign (s) {
  return s.replace(/-/g, '\u2212')
}

function corrText (v) {
  const s = Math.abs(v) < 1e-4 ? v.toExponential().replace(/e-(\d)$/, 'e-0$1') : String(v)
  return minusSign(s)
}

function cellColor (v) {
  const k = Math.max(0, Math.min(24, Math.ceil(Math.abs(v) / 0.04 - 1e-9) - 1))
  const t = k / 24
  const end = v < 0 ? [20, 135, 255] : [255, 51, 0]
  const c = end.map(e => Math.round(255 + (e - 255) * t))
  return `rgb(${c[0]},${c[1]},${c[2]})`
}

function putText (ctx, text, x, y, font, rotation) {
  ctx.save()
  ctx.translate(x, y)
  if (rotation) ctx.rotate(rotation)
  ctx.font = font
  ctx.fillStyle = '#000'
  ctx.textAlign = 'center'
  ctx.textBaseline = 'middle'
  ctx.fillText(text, 0, 0)
  ctx.restore()
}

const baseOptions = {
  responsive: false,
  maintainAspectRatio: false,
  devicePixelRatio: 1,
  animation: false,
  events: []
}
const quietPlugins = { legend: { display: false }, tooltip: { enabled: false }, title: { display: false } }

function polylinePoints (lines) {
  const pts = []
  lines.forEach(line => {
    for (let i = 0; i < line.length; i += 2) pts.push({ x: line[i], y: line[i + 1] })
    pts.push({ x: line[line.length - 2], y: null })
  })
  return pts
}

// ---- panel A, dendrogram ----
function treeChart (ctx) {
  const columns = fanColumns.map(c => [c[0], c[1], c[0], c[2]])
  const guides = guideX.map((x, i) => [x, 0.032, x, guideTop[i]])
  return new Chart(ctx, {
    type: 'line',
    data: {
      datasets: [
        { data: polylinePoints(guides), borderColor: '#000', borderWidth: 1.8, borderDash: [1.8, 5.8], pointRadius: 0 },
        { data: polylinePoints(columns), borderColor: '#000', borderWidth: 5, pointRadius: 0 },
        { data: polylinePoints(treeLines), borderColor: '#000', borderWidth: 2.6, pointRadius: 0 }
      ]
    },
    options: {
      ...baseOptions,
      layout: { padding: { top: 102, bottom: 790 - 770, left: 0, right: 0 } },
      plugins: quietPlugins,
      scales: {
        x: { type: 'linear', min: 227, max: 2071, display: false },
        y: {
          min: 0.032,
          max: 1,
          afterFit: a => { a.width = px(227) },
          afterBuildTicks: a => { a.ticks = heightTicks.map(value => ({ value })) },
          grid: { drawOnChartArea: false, tickLength: 21, color: '#000', lineWidth: 1.5 },
          border: { display: true, color: '#000', width: 1.5 },
          ticks: { display: false }
        }
      }
    },
    plugins: [{
      id: 'treeText',
      afterDraw (chart) {
        const c = chart.ctx
        const y = chart.scales.y
        heightTicks.forEach(v => putText(c, v.toFixed(1), px(157), y.getPixelForValue(v), `28px ${FONT}`, -Math.PI / 2))
        putText(c, 'Height', px(62), 421, `30px ${FONT}`, -Math.PI / 2)
        putText(c, 'Cluster Dendrogram', px(1160), 23, `bold 33px ${FONT}`)
      }
    }]
  })
}

function stripDatasets (ends, colors, row) {
  return ends.map((end, i) => {
    const start = i === 0 ? 296 : ends[i - 1]
    const data = [null, null]
    data[row] = [start, end]
    return { data, backgroundColor: colors[i], borderWidth: 0, grouped: false, barPercentage: 1, categoryPercentage: 1 }
  })
}

function stripChart (ctx) {
  return new Chart(ctx, {
    type: 'bar',
    data: {
      labels: stripRows,
      datasets: [
        ...stripDatasets(sharedEnds.concat(cutTailEnds), sharedColors.concat(cutTailColors), 0),
        ...stripDatasets(sharedEnds.concat(mergedTailEnds), sharedColors.concat(mergedTailColors), 1)
      ]
    },
    options: {
      ...baseOptions,
      indexAxis: 'y',
      layout: { padding: { top: 769, bottom: 1060 - 1016, left: 0, right: 1480 - px(2026) } },
      plugins: quietPlugins,
      scales: {
        x: { type: 'linear', min: 296, max: 2026, display: false },
        y: {
          afterFit: a => { a.width = px(296) },
          grid: {
            offset: true,
            z: 1,
            drawTicks: false,
            lineWidth: c => c.index === 0 ? 1.5 : 3.5,
            color: c => c.index === 0 ? '#555' : '#000'
          },
          border: { display: false },
          ticks: { color: '#000', padding: px(32), font: { family: FONT, size: 23.6 }, crossAlign: 'near' }
        }
      }
    }
  })
}

// ---- panel B, heatmap ----
function swatchChart (ctx) {
  return new Chart(ctx, {
    type: 'bar',
    data: {
      labels: modules,
      datasets: [{ data: modules.map(() => 1), backgroundColor: moduleColors, borderWidth: 0, barPercentage: 1, categoryPercentage: 1 }]
    },
    options: {
      ...baseOptions,
      indexAxis: 'y',
      layout: { padding: { top: 1205.5, bottom: 3074 - 2880, left: 0, right: 2071 - 477 } },
      plugins: quietPlugins,
      scales: {
        x: { type: 'linear', min: 0, max: 1, display: false },
        y: {
          afterFit: a => { a.width = 410 },
          grid: { display: false, drawTicks: false },
          border: { display: false },
          ticks: { autoSkip: false, color: '#000', padding: 10, labelOffset: 2, font: { family: FONT, size: 39.5 } }
        }
      }
    }
  })
}

function heatmapChart (ctx) {
  return new Chart(ctx, {
    type: 'bar',
    data: {
      labels: stages,
      datasets: modules.map((name, r) => ({
        label: name,
        data: stages.map(() => [r, r + 1]),
        backgroundColor: corr[r].map(cellColor),
        borderWidth: 0,
        grouped: false,
        barPercentage: 1,
        categoryPercentage: 1
      }))
    },
    options: {
      ...baseOptions,
      layout: { padding: { top: 1207, bottom: 0, left: 487, right: 2071 - 1908 } },
      plugins: quietPlugins,
      scales: {
        x: {
          afterFit: a => { a.height = 3074 - 2877 },
          grid: { display: false, drawTicks: false },
          border: { display: false },
          ticks: { autoSkip: false, minRotation: 45, maxRotation: 45, padding: 52, color: '#000', font: { family: FONT, size: 39.5 } }
        },
        y: { type: 'linear', min: 0, max: 35, reverse: true, display: false }
      }
    },
    plugins: [{
      id: 'cellText',
      afterDraw (chart) {
        const c = chart.ctx
        const { x, y } = chart.scales
        const a = chart.chartArea
        modules.forEach((name, r) => {
          const cy = y.getPixelForValue(r + 0.5)
          stages.forEach((stage, i) => {
            const cx = x.getPixelForValue(i)
            putText(c, corrText(corr[r][i]), cx, cy - 12.5, `20px ${FONT}`)
            putText(c, '(' + minusSign(pvals[r][i]) + ')', cx, cy + 12, `20px ${FONT}`)
          })
        })
        c.save()
        c.strokeStyle = '#222'
        c.lineWidth = 2
        c.strokeRect(a.left, a.top, a.right - a.left, a.bottom - a.top)
        c.restore()
        putText(c, 'Module\u2212stage\u2212tissue relationships', 1255, 1141, `bold 46.4px ${FONT}`)
        putText(c, 'B', 25, 1146, `bold 44px ${FONT}`)
        putText(c, 'A', 25, 28, `bold 38px ${FONT}`)
      }
    }]
  })
}

function colorbarChart (ctx) {
  return new Chart(ctx, {
    type: 'bar',
    data: {
      labels: [''],
      datasets: colorbarEdges.slice(1).map((edge, i) => {
        const lo = colorbarEdges[i]
        return {
          data: [[lo, edge]],
          backgroundColor: cellColor((lo + edge) / 2),
          borderWidth: 0,
          grouped: false,
          barPercentage: 1,
          categoryPercentage: 1
        }
      })
    },
    options: {
      ...baseOptions,
      layout: { padding: { top: 1306, bottom: 3074 - 2778, left: 1929, right: 0 } },
      plugins: quietPlugins,
      scales: {
        x: { display: false },
        y: {
          position: 'right',
          min: -1,
          max: 1,
          afterFit: a => { a.width = 2071 - 1960 },
          grid: { drawOnChartArea: false, tickLength: 24, color: '#000', lineWidth: 2 },
          border: { display: true, color: '#000', width: 2 },
          ticks: {
            stepSize: 0.5,
            padding: 6,
            color: '#000',
            font: { family: FONT, size: 39 },
            callback: v => minusSign(String(v))
          }
        }
      }
    },
    plugins: [{
      id: 'barFrame',
      afterDraw (chart) {
        const a = chart.chartArea
        const c = chart.ctx
        c.save()
        c.strokeStyle = '#000'
        c.lineWidth = 2
        c.strokeRect(a.left, a.top, a.right - a.left, a.bottom - a.top)
        c.restore()
      }
    }]
  })
}

treeChart(document.getElementById('tree'))
stripChart(document.getElementById('strips'))
swatchChart(document.getElementById('swatches'))
heatmapChart(document.getElementById('heatmap'))
colorbarChart(document.getElementById('colorbar'))
</script>
</body>
</html>
